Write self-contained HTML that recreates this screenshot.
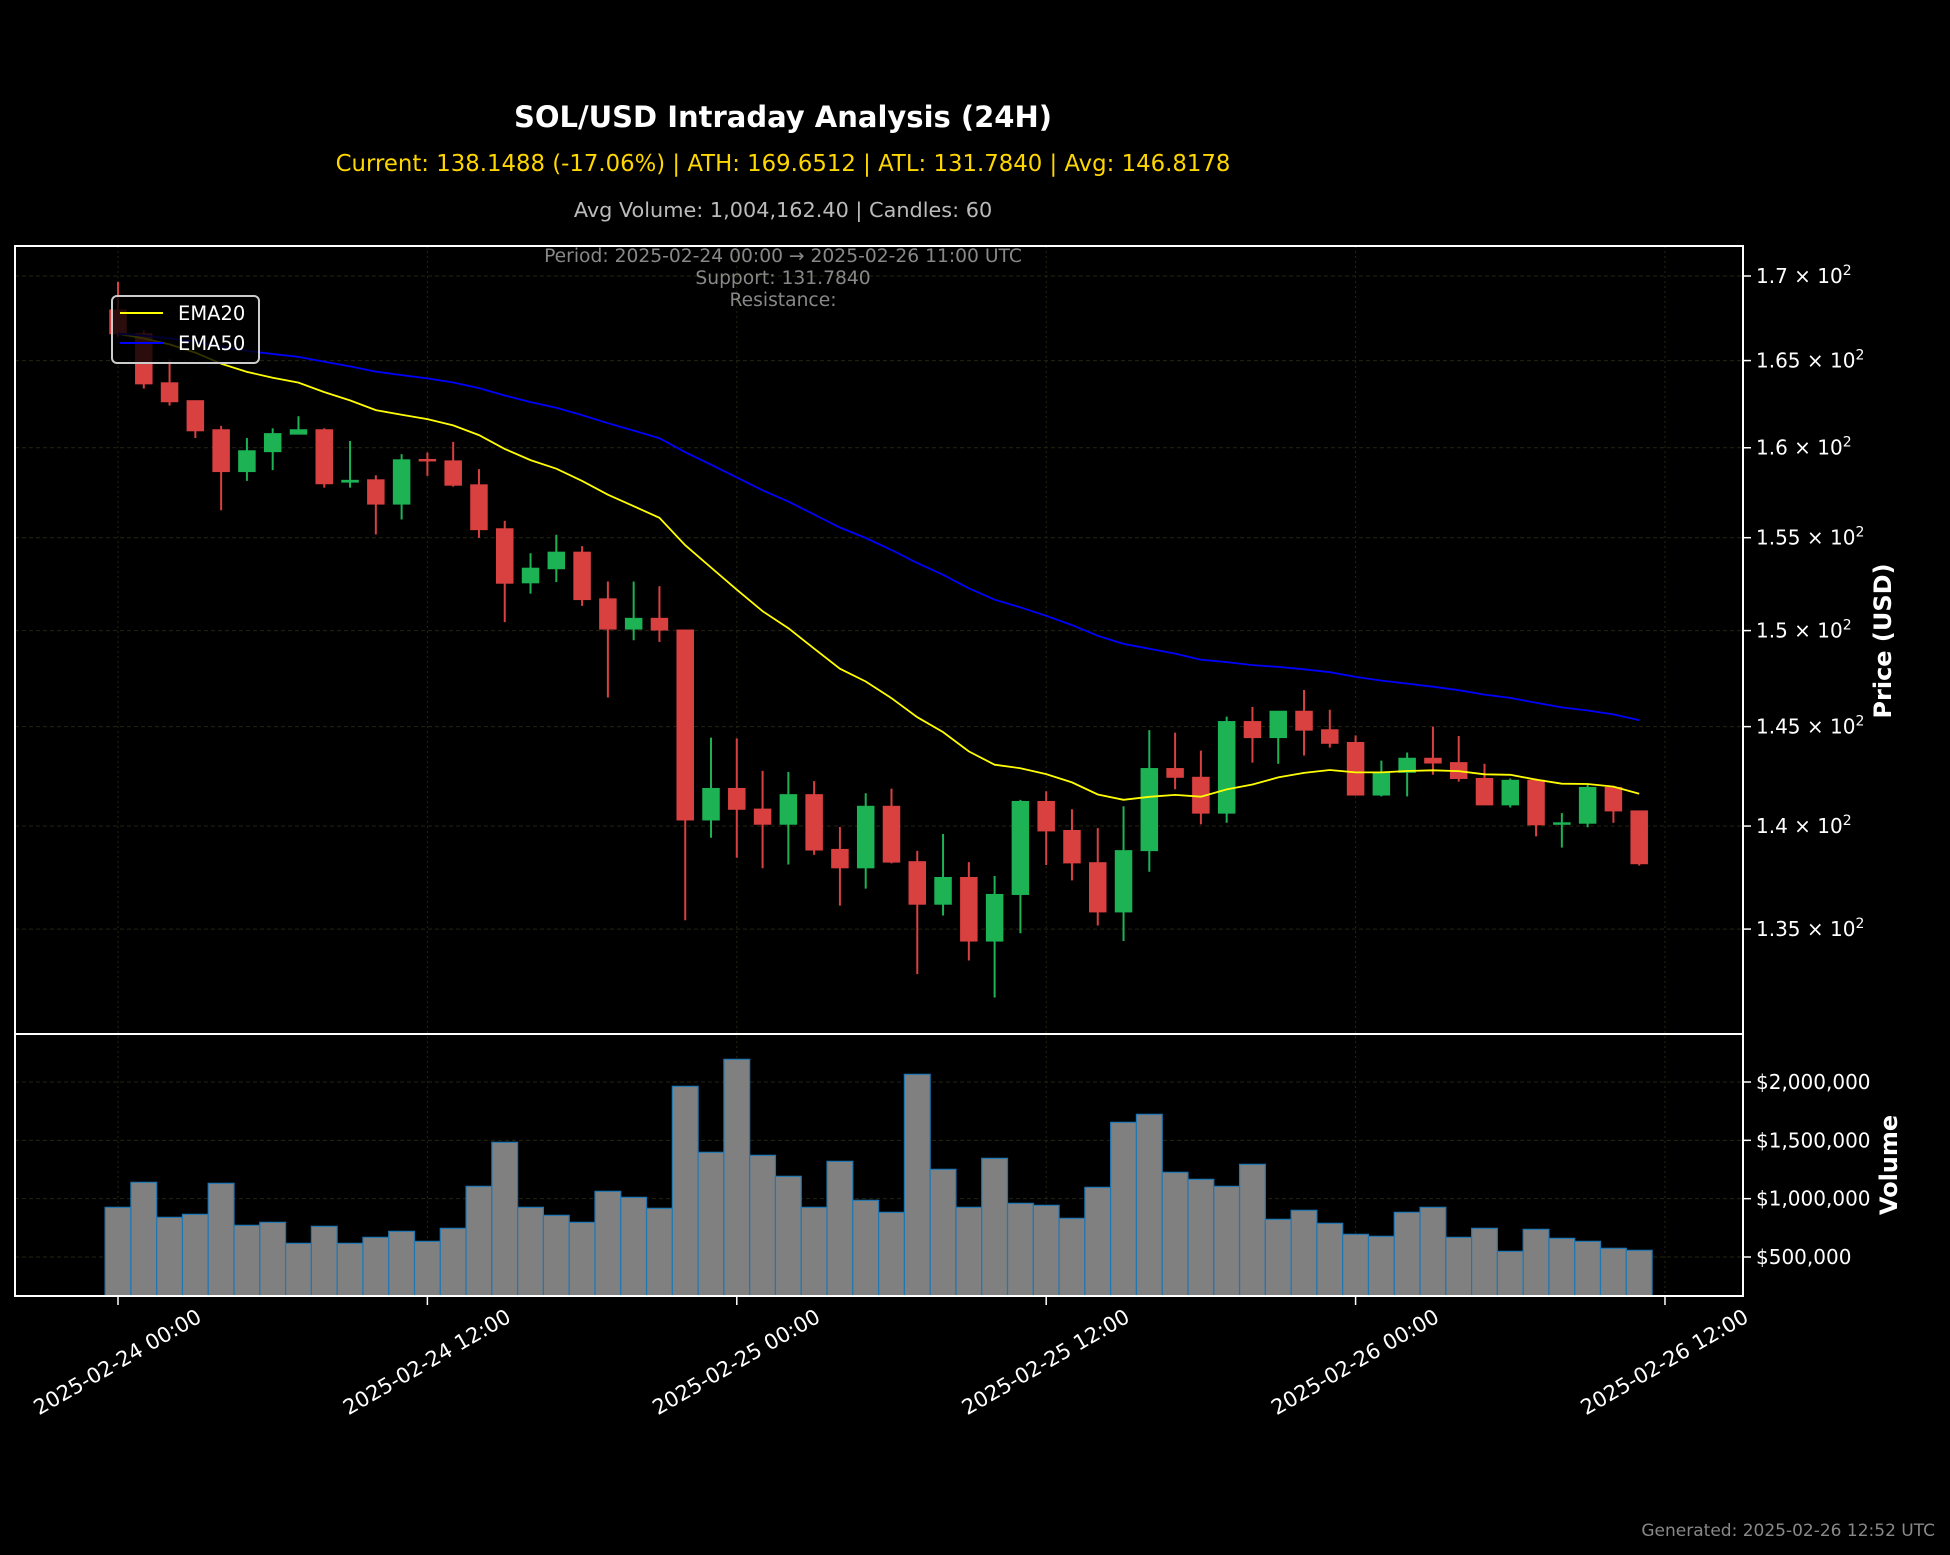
<!DOCTYPE html>
<html><head><meta charset="utf-8"><style>
html,body{margin:0;padding:0;background:#000;}
svg{display:block;font-family:"DejaVu Sans","Liberation Sans",sans-serif;}
</style></head><body>
<svg id="chart" width="1950" height="1555" viewBox="0 0 1950 1555" xmlns="http://www.w3.org/2000/svg">
<rect width="1950" height="1555" fill="#000"/>
<text x="783" y="127" text-anchor="middle" fill="#fff" font-size="29" font-weight="bold">SOL/USD Intraday Analysis (24H)</text>
<text x="783" y="171" text-anchor="middle" fill="#FFD700" font-size="22.8">Current: 138.1488 (-17.06%) | ATH: 169.6512 | ATL: 131.7840 | Avg: 146.8178</text>
<text x="783" y="217" text-anchor="middle" fill="#bbbbbb" font-size="20.8">Avg Volume: 1,004,162.40 | Candles: 60</text>
<g id="grid"></g>
<g id="vol"></g>
<g id="candles"></g>
<g id="ema"></g>
<text x="783" y="262" text-anchor="middle" fill="#888" font-size="18.7">Period: 2025-02-24 00:00 → 2025-02-26 11:00 UTC</text>
<text x="783" y="284" text-anchor="middle" fill="#888" font-size="18.7">Support: 131.7840</text>
<text x="783" y="306" text-anchor="middle" fill="#888" font-size="18.7">Resistance:</text>
<g>
<rect x="112" y="296" width="147" height="67" rx="5" fill="#000" fill-opacity="0.8" stroke="#cccccc" stroke-width="2"/>
<line x1="120" y1="313" x2="163" y2="313" stroke="#ffff00" stroke-width="2"/>
<text x="178" y="320" fill="#fff" font-size="19.5">EMA20</text>
<line x1="120" y1="343" x2="163" y2="343" stroke="#0000ff" stroke-width="2"/>
<text x="178" y="350" fill="#fff" font-size="19.5">EMA50</text>
</g>
<g id="axes"></g>
<text transform="translate(1891,641) rotate(-90)" text-anchor="middle" fill="#fff" font-size="24" font-weight="bold">Price (USD)</text>
<text transform="translate(1897,1165) rotate(-90)" text-anchor="middle" fill="#fff" font-size="24" font-weight="bold">Volume</text>
<text x="1935" y="1536" text-anchor="end" fill="#888" font-size="17">Generated: 2025-02-26 12:52 UTC</text>
</svg>
<script>
const opens=[167.97,166.57,163.71,162.68,161.02,158.66,159.78,160.77,161.02,158.07,158.20,156.85,159.34,159.26,157.92,155.49,152.55,153.31,154.21,151.69,150.08,150.65,150.03,140.30,141.87,140.84,140.09,141.56,138.85,137.95,140.98,138.25,136.19,137.48,134.43,136.66,141.22,139.78,138.20,135.82,138.79,142.87,142.43,140.64,145.26,144.44,145.79,144.84,144.19,141.54,142.68,143.39,143.17,142.37,141.05,142.28,140.09,140.14,141.92,140.75];
const highs=[169.65,166.77,165.06,162.68,161.24,160.55,161.10,161.79,161.10,160.38,158.45,159.64,159.73,160.33,158.80,155.92,154.15,155.16,154.54,152.62,152.62,152.37,150.03,144.44,144.40,142.75,142.70,142.24,139.95,141.63,141.86,138.78,139.61,138.23,137.55,141.30,141.73,140.83,139.90,140.98,144.82,144.69,143.78,145.51,146.01,145.79,146.89,145.87,144.55,143.27,143.68,145.00,144.52,143.11,142.37,142.37,140.64,142.05,142.00,140.75];
const lows=[166.40,163.38,162.40,160.55,156.51,158.14,158.74,160.77,157.76,157.76,155.18,156.00,158.42,157.82,154.99,150.45,151.97,152.59,151.31,146.50,149.49,149.40,135.42,139.42,138.44,137.93,138.11,138.58,136.12,136.94,138.17,132.87,135.65,133.51,131.78,134.80,138.09,137.34,135.17,134.43,137.76,141.83,140.08,140.16,143.17,143.11,143.53,143.93,141.54,141.47,141.47,142.56,142.21,141.05,140.92,139.49,138.94,139.94,140.16,138.06];
const closes=[166.57,163.65,162.62,160.96,158.66,159.83,160.80,161.02,157.98,158.17,156.85,159.32,159.26,157.90,155.44,152.53,153.34,154.21,151.65,150.08,150.65,150.03,140.30,141.87,140.83,140.09,141.56,138.82,137.95,140.98,138.23,136.19,137.48,134.43,136.66,141.22,139.76,138.19,135.82,138.79,142.87,142.43,140.64,145.26,144.44,145.79,144.82,144.15,141.54,142.68,143.39,143.15,142.37,141.05,142.28,140.06,140.16,141.92,140.75,138.15];
const volumes=[925700,1140000,840000,865700,1131400,771400,797100,617100,762900,617100,668600,720000,634300,745700,1105700,1482900,925700,857100,797100,1062900,1011400,917100,1962900,1397100,2194300,1371400,1191400,925700,1320000,985700,882900,2065700,1251400,925700,1345700,960000,942900,831400,1097100,1654300,1722900,1225700,1165700,1105700,1294300,822900,900000,788600,694300,677100,882900,925700,668600,745700,548600,737100,660000,634300,574300,557100];
const priceTicks=[1.35,1.4,1.45,1.5,1.55,1.6,1.65,1.7];
const volumeTicks=[500000,1000000,1500000,2000000];
const volumeTickLabels=["$500,000","$1,000,000","$1,500,000","$2,000,000"];
const timeTickHours=[0,12,24,36,48,60];
const timeTickLabels=["2025-02-24 00:00","2025-02-24 12:00","2025-02-25 00:00","2025-02-25 12:00","2025-02-26 00:00","2025-02-26 12:00"];

const NS="http://www.w3.org/2000/svg";
const L=15,R=1743,PT=246,PB=1034,VT=1034,VB=1296;
const X0=118,HW=25.783;
function xs(h){return X0+h*HW;}
function py(p){return 276+Math.log(170/p)*2833;}
const VMIN=165700,VMAX=2411400;
function vy(v){return VB-(v-VMIN)/(VMAX-VMIN)*(VB-VT);}
function mk(parent,tag,attrs){const e=document.createElementNS(NS,tag);for(const k in attrs)e.setAttribute(k,attrs[k]);document.getElementById(parent).appendChild(e);return e;}

const GC='#25250f';
priceTicks.forEach(t=>{const g=mk('grid','line',{x1:L,x2:R,y1:py(t*100),y2:py(t*100),stroke:GC,'stroke-width':1,'stroke-dasharray':'4,3'});

});
volumeTicks.forEach(t=>{const g=mk('grid','line',{x1:L,x2:R,y1:vy(t),y2:vy(t),stroke:GC,'stroke-width':1,'stroke-dasharray':'4,3'});

});
timeTickHours.forEach(h=>{const g=mk('grid','line',{x1:xs(h),x2:xs(h),y1:PT,y2:VB,stroke:GC,'stroke-width':1,'stroke-dasharray':'2,3'});

});

volumes.forEach((v,i)=>{const r=mk('vol','rect',{x:xs(i)-HW/2,y:vy(v),width:HW,height:VB-vy(v),fill:'#808080',stroke:'#1f77b4','stroke-width':1.2});

});

const BW=16.5;
opens.forEach((o,i)=>{const c=closes[i];const up=c>=o;const col=up?'#1db354':'#d94040';
const w=mk('candles','line',{x1:xs(i),x2:xs(i),y1:py(highs[i]),y2:py(lows[i]),stroke:col,'stroke-width':2});


const top=py(Math.max(o,c)),bot=py(Math.min(o,c));
const b=mk('candles','rect',{x:xs(i)-BW/2,y:top,width:BW,height:Math.max(bot-top,1.5),fill:col,stroke:col,'stroke-width':1});

});

function ema(arr,span){const a=2/(span+1);const out=[arr[0]];for(let i=1;i<arr.length;i++)out.push(out[i-1]+a*(arr[i]-out[i-1]));return out;}
[[20,'#ffff00','ema20-line'],[50,'#0000ff','ema50-line']].forEach(([s,col,name])=>{
const e=ema(closes,s);const d=e.map((v,i)=>(i?'L':'M')+xs(i).toFixed(1)+','+py(v).toFixed(1)).join(' ');
const p=mk('ema','path',{d:d,fill:'none',stroke:col,'stroke-width':1.8});

});

const f1=mk('axes','rect',{x:L,y:PT,width:R-L,height:PB-PT,fill:'none',stroke:'#fff','stroke-width':2});


const f2=mk('axes','rect',{x:L,y:VT,width:R-L,height:VB-VT,fill:'none',stroke:'#fff','stroke-width':2});



priceTicks.forEach(t=>{const y=py(t*100);
const tk=mk('axes','line',{x1:R,x2:R+8,y1:y,y2:y,stroke:'#fff','stroke-width':1.5});


const tx=mk('axes','text',{x:R+13,y:y+7,fill:'#fff','font-size':20});


tx.innerHTML=t+' × 10<tspan dy="-8" font-size="14">2</tspan>';});

volumeTicks.forEach((t,i)=>{const y=vy(t);
const tk=mk('axes','line',{x1:R,x2:R+8,y1:y,y2:y,stroke:'#fff','stroke-width':1.5});


const tx=mk('axes','text',{x:R+13,y:y+7,fill:'#fff','font-size':20});


tx.textContent=volumeTickLabels[i];});

timeTickHours.forEach((h,i)=>{const x=xs(h);
const tk=mk('axes','line',{x1:x,x2:x,y1:VB,y2:VB+9,stroke:'#fff','stroke-width':1.5});


const tx=mk('axes','text',{x:0,y:0,fill:'#fff','font-size':21,'text-anchor':'middle','dominant-baseline':'middle',transform:'translate('+x+',1363) rotate(-30)'});


tx.textContent=timeTickLabels[i];});
</script>
</body></html>
